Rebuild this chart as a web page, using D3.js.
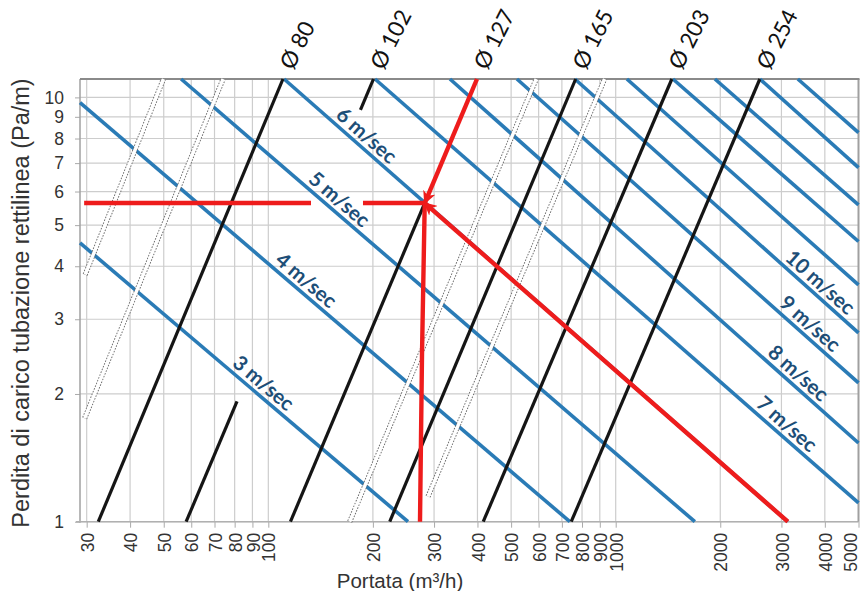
<!DOCTYPE html>
<html><head><meta charset="utf-8">
<script src="https://cdn.jsdelivr.net/npm/d3@7"></script>
<style>body{margin:0;background:#fff}svg{display:block}</style>
</head><body>
<svg id="c" width="863" height="591"></svg>
<script>
// ---------- data ----------
const xTicks = [30,40,50,60,70,80,90,100,200,300,400,500,600,700,800,900,1000,2000,3000,4000,5000];
const yTicks = [1,2,3,4,5,6,7,8,9,10];
const xDomain = [28.7, 5000];
const yDomain = [1, 11.05];

// velocity lines (m/s) : start [Q,R] and end [Q,R]
const velocities = [3,4,5,6,7,8,9,10,11,12,13,14,15];
const velStart = [[28.7,4.54],[28.7,9.72],[56.1,11.05],[111,11.05],[202.8,11.05],[333.3,11.05],[519.5,11.05],[763,11.05],[1077,11.05],[1461,11.05],[1930,11.05],[2600,11.05],[3344,11.05]];
const velEnd   = [[252.4,1],[738,1],[1690,1],[3130,1],[5000,1.107],[5000,1.533],[5000,2.124],[5000,2.786],[5000,3.617],[5000,4.575],[5000,5.583],[5000,6.83],[5000,8.26]];
const velLabelQ = [92,122,152,182,2950,3180,3440,3680,null,null,null,null,null];

// diameter lines: Q at R=1 and Q at top of chart, visible R ranges
const diameters = ["Ø 80","Ø 102","Ø 127","Ø 165","Ø 203","Ø 254"];
const diamQBottom = [32.4, 58.0, 115.8, 223.6, 415.6, 744.7];
const diamQTop    = [110.2, 200.8, 398.7, 767, 1451, 2600];
const diamVisible = [[[1,11.05]],[[1,1.92],[9.35,11.05]],[[1,5.636]],[[1,11.05]],[[1,11.05]],[[1,11.05]]];

// unlabelled intermediate diameters (double dotted lines)
const dblStart = [[29.7,3.82],[29.6,1.753],[171.5,1],[288.2,1.146]];
const dblEnd   = [[49.9,11.05],[74.1,11.05],[590.5,11.05],[929,11.05]];

// red example path
const redPlain = [[[29.5,5.636],[132.7,5.636]],[[187.3,5.636],[282,5.636]],[[273.3,1],[277,2.5],[282,5.636]]];
const redArrow = [[[398.7,11.05],[282,5.636]],[[3130,1],[282,5.636]]];

// ---------- drawing ----------
const svg = d3.select("#c");
const L = 80, R = 858.5, T = 79, B = 521.7;
const x = d3.scaleLog().domain(xDomain).range([L, R]);
const y = d3.scaleLog().domain(yDomain).range([B, T]);
const line = d3.line().x(d => x(d[0])).y(d => y(d[1]));
const lg = Math.log10;

svg.append("rect").attr("width",863).attr("height",591).attr("fill","#fff");

const defs = svg.append("defs");
defs.append("marker").attr("id","arr").attr("viewBox","0 -5 10 10")
  .attr("refX",9).attr("refY",0).attr("markerUnits","userSpaceOnUse")
  .attr("markerWidth",13).attr("markerHeight",13).attr("orient","auto")
  .append("path").attr("d","M0,-5L10,0L0,5L3,0Z").attr("fill","#ee1c1c");

// grid
svg.append("g").selectAll("line").data(xTicks.filter(d=>d<5000)).join("line")
  .attr("x1",d=>x(d)).attr("x2",d=>x(d)).attr("y1",B).attr("y2",T)
  .attr("stroke","#cdcdcd").attr("stroke-width",1.2);
svg.append("g").selectAll("line").data(yTicks).join("line")
  .attr("x1",L).attr("x2",R).attr("y1",d=>y(d)).attr("y2",d=>y(d))
  .attr("stroke","#cdcdcd").attr("stroke-width",1.2);

// axes
const yAxis = svg.append("g").attr("transform",`translate(${L},0)`)
  .call(d3.axisLeft(y).tickValues(yTicks).tickFormat(d3.format("d")).tickSize(5).tickPadding(11));
yAxis.select(".domain").remove();
yAxis.selectAll("line").attr("stroke","#aaa");
yAxis.selectAll("text").attr("font-family","'Liberation Sans', Arial, sans-serif").attr("font-size",17.5).attr("fill","#333");

const xAxis = svg.append("g").attr("transform",`translate(0,${B})`)
  .call(d3.axisBottom(x).tickValues(xTicks).tickFormat(d3.format("d")).tickSize(6));
xAxis.select(".domain").remove();
xAxis.selectAll("line").attr("stroke","#aaa");
xAxis.selectAll("text").attr("font-family","'Liberation Sans', Arial, sans-serif").attr("font-size",17.5).attr("fill","#333")
  .attr("transform","rotate(-90)").attr("text-anchor","end").attr("x",-11).attr("y",0)
  .attr("dy",d=>d===5000?"-0.12em":"0.38em");

// frame
svg.append("line").attr("x1",L).attr("x2",L).attr("y1",T).attr("y2",B+1).attr("stroke","#a0a0a0").attr("stroke-width",1.5);
svg.append("line").attr("x1",L-4).attr("x2",R).attr("y1",B).attr("y2",B).attr("stroke","#b0b0b0").attr("stroke-width",1.5);
svg.append("line").attr("x1",R).attr("x2",R).attr("y1",T).attr("y2",B).attr("stroke","#a0a0a0").attr("stroke-width",2);
svg.append("line").attr("x1",L).attr("x2",R+1).attr("y1",T).attr("y2",T).attr("stroke","#8a8a8a").attr("stroke-width",2.2);

// velocity lines
const velData = velocities.map((v,i)=>({v, a:velStart[i], b:velEnd[i], lq:velLabelQ[i]}));
svg.append("g").selectAll("path").data(velData).join("path")
  .attr("d",d=>line([d.a,d.b])).attr("fill","none").attr("stroke","#2a7bb6").attr("stroke-width",3.6);

// double dotted lines
const dblData = dblStart.map((s,i)=>[s,dblEnd[i]]);
const dg = svg.append("g");
dg.selectAll("path.o").data(dblData).join("path").attr("class","o")
  .attr("d",d=>line(d)).attr("fill","none").attr("stroke","#666").attr("stroke-width",5.2).attr("stroke-dasharray","1.6,1.4");
dg.selectAll("path.i").data(dblData).join("path").attr("class","i")
  .attr("d",d=>line(d)).attr("fill","none").attr("stroke","#fff").attr("stroke-width",3.4);

// diameter lines
function diamQ(i, r){
  const t = lg(r)/lg(yDomain[1]);
  return Math.pow(10, lg(diamQBottom[i]) + t*(lg(diamQTop[i])-lg(diamQBottom[i])));
}
const segs = [];
diameters.forEach((name,i)=>diamVisible[i].forEach(rr=>segs.push([[diamQ(i,rr[0]),rr[0]],[diamQ(i,rr[1]),rr[1]]])));
svg.append("g").selectAll("path").data(segs).join("path")
  .attr("d",d=>line(d)).attr("fill","none").attr("stroke","#151515").attr("stroke-width",3.2);

// red path
const rg = svg.append("g");
rg.selectAll("path.p").data(redPlain).join("path").attr("class","p")
  .attr("d",d=>line(d)).attr("fill","none").attr("stroke","#ee1c1c").attr("stroke-width",4.4);
rg.selectAll("path.a").data(redArrow).join("path").attr("class","a")
  .attr("d",d=>line(d)).attr("fill","none").attr("stroke","#ee1c1c").attr("stroke-width",4.4)
  .attr("marker-end","url(#arr)");

// velocity labels
velData.filter(d=>d.lq).forEach(d=>{
  const t = (lg(d.lq)-lg(d.a[0]))/(lg(d.b[0])-lg(d.a[0]));
  const r = Math.pow(10, lg(d.a[1]) + t*(lg(d.b[1])-lg(d.a[1])));
  const ang = Math.atan2(y(d.b[1])-y(d.a[1]), x(d.b[0])-x(d.a[0]))*180/Math.PI;
  svg.append("text").attr("transform",`translate(${x(d.lq)},${y(r)}) rotate(${ang})`)
    .attr("y",-5).attr("text-anchor","middle")
    .attr("font-family","Lato, 'Open Sans', sans-serif").attr("font-weight","bold").attr("font-size",20.5)
    .attr("fill","#1d4e77").text(d.v+" m/sec");
});

// diameter labels
diameters.forEach((name,i)=>{
  svg.append("text").attr("transform",`translate(${x(diamQTop[i])+10},71) rotate(-63)`)
    .attr("font-family","Lato, 'Open Sans', sans-serif").attr("font-size",22.5).attr("fill","#111").text(name);
});

// axis titles
svg.append("text").attr("transform","translate(29,303) rotate(-90)").attr("text-anchor","middle")
  .attr("font-family","'Liberation Sans', Arial, sans-serif").attr("font-size",23.5).attr("fill","#333")
  .text("Perdita di carico  tubazione rettilinea (Pa/m)");
svg.append("text").attr("x",400).attr("y",588).attr("text-anchor","middle")
  .attr("font-family","'Liberation Sans', Arial, sans-serif").attr("font-size",20.5).attr("fill","#333")
  .text("Portata (m³/h)");
</script>
</body></html>
